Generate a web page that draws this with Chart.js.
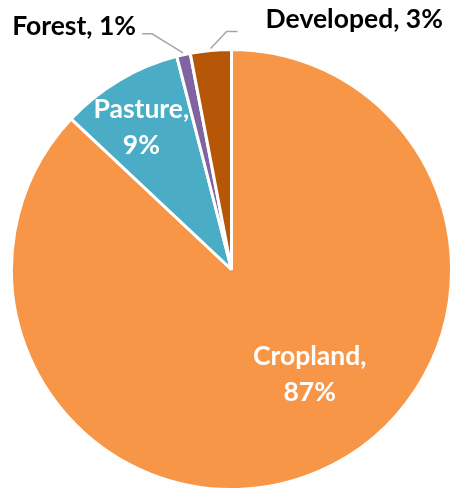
<!DOCTYPE html>
<html><head><meta charset="utf-8">
<script src="https://cdn.jsdelivr.net/npm/chart.js@4"></script>
<style>html,body{margin:0;padding:0;background:#fff}#wrap{width:453px;height:491px}</style>
</head><body><div id="wrap"><canvas id="c"></canvas></div>
<script>
const categories = ["Cropland", "Pasture", "Forest", "Developed"];
const shares = [87, 9, 1, 3];
const colors = ["#F79646", "#4BACC6", "#8064A2", "#B65708"];

// label placement: inside labels use fraction of radius + angle shift (deg); outside use leader elbows
const labelSpec = [
  {mode: "in", r: 0.595, dAng: -13.3, color: "#fff", lines: ["Cropland,", "87%"]},
  {mode: "in", r: 0.763, dAng: -1.9, color: "#fff", lines: ["Pasture,", "9%"]},
  {mode: "out", ex: -31, ey: -19, hx: -10, gap: 6, dy: -7, side: "left", color: "#000", lines: ["Forest, 1%"]},
  {mode: "out", ex: 16, ey: -17, hx: 11, gap: 28, dy: -12, side: "right", color: "#000", lines: ["Developed, 3%"]}
];
const FONT = "bold 26.5px Lato, 'Open Sans', sans-serif";

const labelPlugin = {
  id: "pieLabels",
  afterDatasetsDraw(chart) {
    const ctx = chart.ctx;
    const meta = chart.getDatasetMeta(0);
    meta.data.forEach((arc, i) => {
      const spec = labelSpec[i];
      const p = arc.getProps(["x", "y", "startAngle", "endAngle", "outerRadius"], true);
      const mid = (p.startAngle + p.endAngle) / 2;
      ctx.save();
      ctx.font = FONT;
      ctx.fillStyle = spec.color;
      ctx.textBaseline = "middle";
      if (spec.mode === "in") {
        const a = mid + spec.dAng * Math.PI / 180;
        const rr = p.outerRadius * spec.r;
        const lx = p.x + Math.cos(a) * rr, ly = p.y + Math.sin(a) * rr;
        ctx.textAlign = "center";
        const lh = 36;
        spec.lines.forEach((t, k) => ctx.fillText(t, lx, ly + (k - (spec.lines.length - 1) / 2) * lh));
      } else {
        const sx = p.x + Math.cos(mid) * (p.outerRadius + 2);
        const sy = p.y + Math.sin(mid) * (p.outerRadius + 2);
        const ex = sx + spec.ex, ey = sy + spec.ey;
        const hx = ex + spec.hx;
        ctx.strokeStyle = "#A6A6A6";
        ctx.lineWidth = 1.5;
        ctx.beginPath();
        ctx.moveTo(sx, sy); ctx.lineTo(ex, ey); ctx.lineTo(hx, ey);
        ctx.stroke();
        ctx.textAlign = spec.side === "left" ? "right" : "left";
        const tx = spec.side === "left" ? hx - spec.gap : hx + spec.gap;
        ctx.fillText(spec.lines[0], tx, ey + spec.dy);
      }
      ctx.restore();
    });
  }
};

new Chart(document.getElementById("c"), {
  type: "pie",
  data: {
    labels: categories,
    datasets: [{data: shares, backgroundColor: colors, borderColor: "#fff", borderWidth: 3}]
  },
  options: {
    responsive: true,
    maintainAspectRatio: false,
    animation: false,
    layout: {padding: {top: 48, bottom: 0, left: 10, right: 0}},
    plugins: {legend: {display: false}, tooltip: {enabled: false}}
  },
  plugins: [labelPlugin]
});
</script></body></html>
